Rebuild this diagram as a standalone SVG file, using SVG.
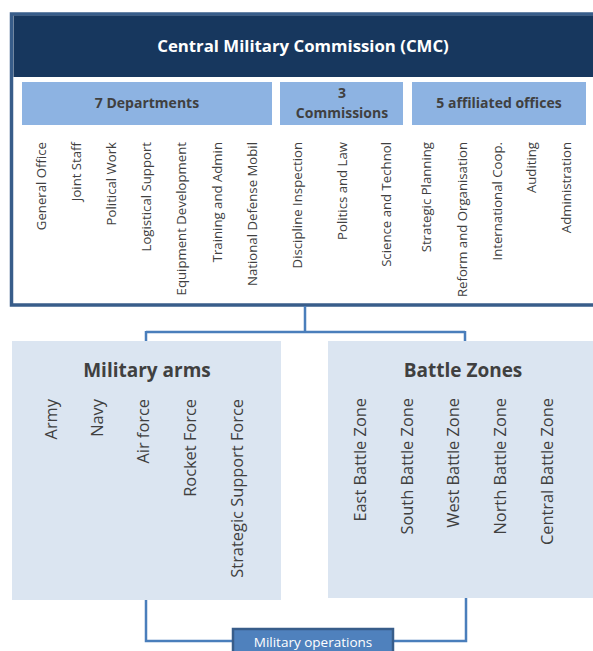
<svg xmlns="http://www.w3.org/2000/svg" width="593" height="651" viewBox="0 0 593 651">
<style>
.frame{fill:#ffffff;stroke:#385d8a;stroke-width:3.5}
.hdr{fill:#17375e}
.sub{fill:#8db3e2}
.big{fill:#dbe5f1}
.t{font-family:"Open Sans","Liberation Sans",sans-serif;fill:#404040}
.subt{font-size:14px;font-weight:bold;text-anchor:middle}
.small{font-size:13.2px;text-anchor:end}
.mid{font-size:16.4px;text-anchor:end}
.ttl{font-size:19px;font-weight:bold;text-anchor:middle}
.conn{fill:none;stroke:#4a7ebb;stroke-width:2.5}
</style>
<g id="cmc">
<rect class="frame" x="11.5" y="14" width="600" height="291"/>
<rect class="hdr" x="13.5" y="15.5" width="590" height="61.5"/>
<line x1="11.5" y1="14" x2="600" y2="14" stroke="#385d8a" stroke-width="2"/>
<text x="303" y="52" font-family="'Open Sans','Liberation Sans',sans-serif" font-size="16.8" font-weight="bold" fill="#ffffff" text-anchor="middle">Central Military Commission (CMC)</text>
</g>
<g id="departments">
<rect class="sub" x="22" y="82" width="250" height="43"/>
<text class="t subt" x="147" y="108">7 Departments</text>
<g class="t small">
<text transform="translate(46,142) rotate(-90)">General Office</text>
<text transform="translate(81,142) rotate(-90)">Joint Staff</text>
<text transform="translate(116,142) rotate(-90)">Political Work</text>
<text transform="translate(151,142) rotate(-90)">Logistical Support</text>
<text transform="translate(186,142) rotate(-90)">Equipment Development</text>
<text transform="translate(222,142) rotate(-90)">Training and Admin</text>
<text transform="translate(257,142) rotate(-90)">National Defense Mobil</text>
</g>
</g>
<g id="commissions">
<rect class="sub" x="280" y="82" width="123" height="43"/>
<text class="t subt" x="342" y="98">3</text>
<text class="t subt" x="342" y="118">Commissions</text>
<g class="t small">
<text transform="translate(302,142) rotate(-90)">Discipline Inspection</text>
<text transform="translate(347,142) rotate(-90)">Politics and Law</text>
<text transform="translate(391,142) rotate(-90)">Science and Technol</text>
</g>
</g>
<g id="offices">
<rect class="sub" x="412" y="82" width="174" height="43"/>
<text class="t subt" x="499" y="108">5 affiliated offices</text>
<g class="t small">
<text transform="translate(431,142) rotate(-90)">Strategic Planning</text>
<text transform="translate(467,142) rotate(-90)">Reform and Organisation</text>
<text transform="translate(502,142) rotate(-90)">International Coop.</text>
<text transform="translate(536,142) rotate(-90)">Auditing</text>
<text transform="translate(571,142) rotate(-90)">Administration</text>
</g>
</g>
<g id="connectors">
<path class="conn" d="M305,306 V332 M146,332 H465 M146,331 V341 M465,331 V341"/>
<path class="conn" d="M146,600 V641 H233 M466,598 V641 H393"/>
</g>
<g id="military-arms">
<rect class="big" x="12" y="341" width="269" height="259"/>
<text class="t ttl" x="147" y="377">Military arms</text>
<g class="t mid">
<text transform="translate(57,399) rotate(-90)">Army</text>
<text transform="translate(103,399) rotate(-90)">Navy</text>
<text transform="translate(149,399) rotate(-90)">Air force</text>
<text transform="translate(196,399) rotate(-90)">Rocket Force</text>
<text transform="translate(243,399) rotate(-90)">Strategic Support Force</text>
</g>
</g>
<g id="battle-zones">
<rect class="big" x="328" y="341" width="270" height="257"/>
<text class="t ttl" x="463" y="377">Battle Zones</text>
<g class="t mid">
<text transform="translate(366,398) rotate(-90)">East Battle Zone</text>
<text transform="translate(413,398) rotate(-90)">South Battle Zone</text>
<text transform="translate(459,398) rotate(-90)">West Battle Zone</text>
<text transform="translate(506,398) rotate(-90)">North Battle Zone</text>
<text transform="translate(553,398) rotate(-90)">Central Battle Zone</text>
</g>
</g>
<g id="military-operations">
<rect x="233" y="629" width="160" height="30" fill="#4f81bd" stroke="#385d8a" stroke-width="2.5"/>
<text x="313" y="647" font-family="'Open Sans','Liberation Sans',sans-serif" font-size="13.5" fill="#ffffff" text-anchor="middle">Military operations</text>
</g>
</svg>
